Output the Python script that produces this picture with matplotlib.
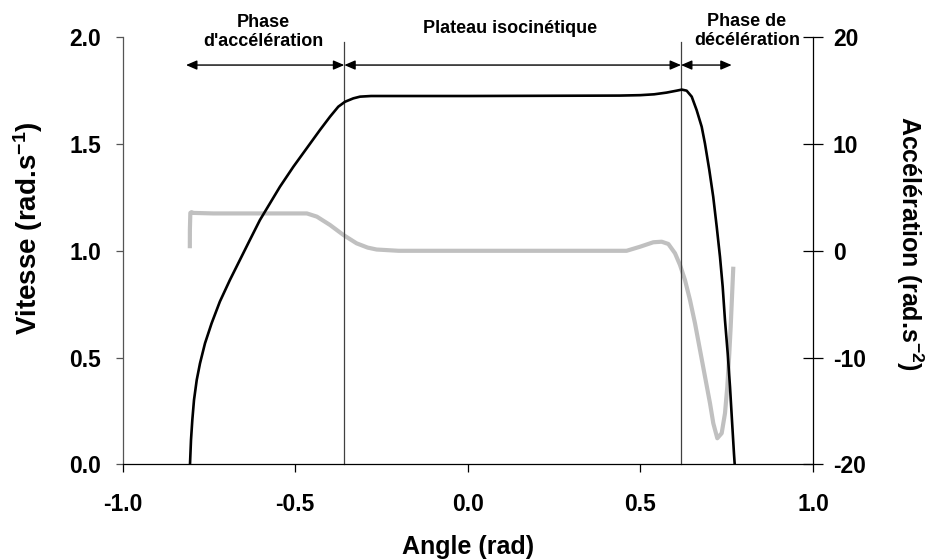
import matplotlib
matplotlib.use("Agg")
import matplotlib.pyplot as plt

# ---------------- data ----------------
angle_vitesse = [-0.8045, -0.8016, -0.7978, -0.7929, -0.785, -0.7755, -0.761, -0.742,
                 -0.718, -0.689, -0.660, -0.631, -0.602, -0.573, -0.544, -0.505,
                 -0.4665, -0.428, -0.399, -0.375, -0.3556, -0.3315, -0.312, -0.280,
                 0.000, 0.440, 0.500, 0.540, 0.576, 0.605, 0.620, 0.634, 0.6487,
                 0.663, 0.6776, 0.687, 0.6997, 0.711, 0.7211, 0.7306, 0.7384, 0.745,
                 0.7529, 0.7596, 0.7653, 0.7711, 0.7732]
vitesse = [0.0, 0.114, 0.207, 0.301, 0.395, 0.473, 0.567, 0.660,
           0.762, 0.863, 0.957, 1.051, 1.144, 1.222, 1.300, 1.394,
           1.480, 1.566, 1.628, 1.675, 1.698, 1.714, 1.722, 1.725,
           1.725, 1.727, 1.729, 1.733, 1.741, 1.750, 1.755, 1.750, 1.722,
           1.659, 1.581, 1.503, 1.378, 1.253, 1.113, 0.972, 0.832, 0.676,
           0.520, 0.363, 0.207, 0.05, 0.0]

angle_acc = [-0.805, -0.8048, -0.8035, -0.800, -0.795, -0.737, -0.602, -0.466,
             -0.437, -0.399, -0.360, -0.322, -0.290, -0.264, -0.200, 0.000,
             0.2672, 0.460, 0.499, 0.5375, 0.5617, 0.581, 0.6003, 0.6148,
             0.6292, 0.6437, 0.6582, 0.6727, 0.6872, 0.7017, 0.7112, 0.7228,
             0.7355, 0.7451, 0.7518, 0.7576, 0.7616, 0.7654, 0.7692]
acceleration = [0.24, 2.0, 3.55, 3.62, 3.55, 3.5, 3.5, 3.5,
                3.2, 2.42, 1.48, 0.70, 0.30, 0.12, 0.0, 0.0,
                0.0, 0.0, 0.38, 0.80, 0.85, 0.64, -0.23, -1.33,
                -2.74, -4.61, -6.79, -9.29, -11.79, -14.29, -16.16, -17.56,
                -17.09, -15.22, -12.73, -9.60, -7.10, -4.30, -1.49]

phase_bounds = [-0.3576, 0.6177]          # vertical separators
arrow_ends = [-0.816, 0.7645]             # outer arrow ends
phase_labels = ["Phase\nd'accélération", "Plateau isocinétique", "Phase de\ndécélération"]

x_ticks = [-1.0, -0.5, 0.0, 0.5, 1.0]
v_ticks = [0.0, 0.5, 1.0, 1.5, 2.0]
a_ticks = [-20, -10, 0, 10, 20]

# ---------------- style ----------------
plt.rcParams['font.family'] = ['Liberation Sans', 'DejaVu Sans']
plt.rcParams['font.weight'] = 'bold'
plt.rcParams['axes.unicode_minus'] = False
plt.rcParams['mathtext.fontset'] = 'custom'
plt.rcParams['mathtext.rm'] = 'Liberation Sans:bold'
plt.rcParams['mathtext.bf'] = 'Liberation Sans:bold'
plt.rcParams['mathtext.default'] = 'bf'

TICK_FS = 16.5
LABEL_FS = 18
NOTE_FS = 13

W, H = 925, 559
fig = plt.figure(figsize=(W / 100, H / 100), dpi=100)
L, R, B, T = 122.5, 813.0, 464.3, 37.3
ax = fig.add_axes([L / W, 1 - B / H, (R - L) / W, (B - T) / H])
ax2 = ax.twinx()

ax.set_xlim(-1, 1)
ax.set_ylim(0, 2)
ax2.set_ylim(-20, 20)

# curves
ax2.plot(angle_acc, acceleration, color='#c0c0c0', lw=3.0, solid_joinstyle='round',
         solid_capstyle='butt', zorder=2)
ax.plot(angle_vitesse, vitesse, color='black', lw=1.9, solid_joinstyle='round', zorder=3)
ax.set_zorder(ax2.get_zorder() + 1)
ax.patch.set_visible(False)

# phase separators
for xb in phase_bounds:
    ax.plot([xb, xb], [0, 1.978], color='#404040', lw=0.9, zorder=1, clip_on=False)

# arrows
y_arr = 1.870
segs = [(arrow_ends[0], phase_bounds[0]), (phase_bounds[0], phase_bounds[1]),
        (phase_bounds[1], arrow_ends[1])]
for x1, x2 in segs:
    ax.annotate('', xy=(x2, y_arr), xytext=(x1, y_arr), annotation_clip=False,
                arrowprops=dict(arrowstyle='<|-|>,head_length=0.65,head_width=0.28',
                                color='black', lw=1.0, shrinkA=0, shrinkB=0,
                                mutation_scale=10))

label_pos = [(-0.593, 2.025), (0.122, 2.043), (0.809, 2.030)]
for (lx, ly), txt in zip(label_pos, phase_labels):
    ax.text(lx, ly, txt, ha='center', va='center', fontsize=NOTE_FS, fontweight='bold',
            linespacing=1.15, clip_on=False)

# spines
ax.spines['top'].set_visible(False)
ax2.spines['top'].set_visible(False)
ax.spines['left'].set_color('#555555')
for s in ['left', 'bottom']:
    ax.spines[s].set_linewidth(0.9)
ax2.spines['right'].set_linewidth(0.9)
ax2.spines['left'].set_visible(False)
ax2.spines['bottom'].set_visible(False)
ax.spines['right'].set_visible(False)

# ticks
ax.set_xticks(x_ticks)
ax.set_xticklabels([f"{v:.1f}" for v in x_ticks])
ax.set_yticks(v_ticks)
ax.set_yticklabels([f"{v:.1f}" for v in v_ticks])
ax2.set_yticks(a_ticks)
ax2.set_yticklabels([str(v) for v in a_ticks])

ax.tick_params(axis='x', direction='out', length=5.8, width=0.9, pad=15, labelsize=TICK_FS)
ax.tick_params(axis='y', direction='out', length=5.0, width=0.9, pad=10.5, labelsize=TICK_FS,
               color='#555555')
ax2.tick_params(axis='y', direction='inout', length=14.4, width=0.9, pad=7.2, labelsize=TICK_FS)
for lab in ax.get_xticklabels() + ax.get_yticklabels() + ax2.get_yticklabels():
    lab.set_fontweight('bold')

# axis labels
fig.text(28 / W, 1 - 228 / H, r'Vitesse (rad.s$^{-1}$)', rotation=90, ha='center',
         va='center', fontsize=20, fontweight='bold')
fig.text(910 / W, 1 - 243.5 / H, r'Accélération (rad.s$^{-2}$)', rotation=-90,
         ha='center', va='center', fontsize=LABEL_FS, fontweight='bold')
fig.text(468 / W, 1 - 547 / H, 'Angle (rad)', ha='center', va='center',
         fontsize=LABEL_FS, fontweight='bold')

fig.savefig('out.png', dpi=100)
